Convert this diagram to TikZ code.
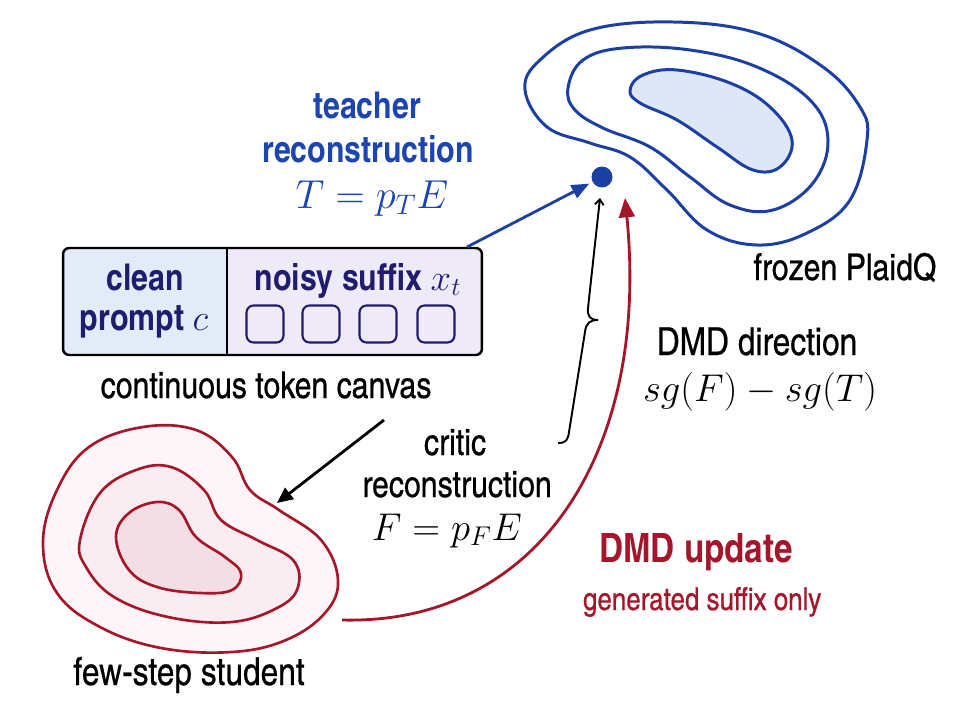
\RequirePackage{fix-cm}
\documentclass[tikz,border=0pt]{standalone}
\usepackage{fontspec}
\setmainfont{texgyreheroscn}[Extension=.otf,UprightFont=*-regular,UprightFeatures={FakeBold=0.5},BoldFont=*-bold,ItalicFont=*-italic,BoldItalicFont=*-bolditalic]
\usetikzlibrary{arrows.meta}
\definecolor{cblue}{HTML}{1B3FA3}
\definecolor{tblue}{HTML}{1D45B2}
\definecolor{navy}{HTML}{201C70}
\definecolor{cred}{HTML}{A5162B}
\definecolor{lblue}{HTML}{E3EBF8}
\definecolor{llav}{HTML}{EFEAF8}
\definecolor{bfill}{HTML}{DDE7F5}
\definecolor{rfillA}{HTML}{FDF5F7}
\definecolor{rfillB}{HTML}{FAEDF1}
\definecolor{rfillC}{HTML}{F3DEE6}
\tikzset{
  lbl/.style={font=\fontsize{21}{25}\selectfont, anchor=base, inner sep=0pt},
  lblbig/.style={font=\fontsize{22}{26}\selectfont, anchor=base, inner sep=0pt},
  blbl/.style={font=\fontsize{21}{25}\selectfont\bfseries, anchor=base, inner sep=0pt},
  mathlbl/.style={font=\fontsize{22}{26}\selectfont, anchor=base, inner sep=0pt},
  bcont/.style={draw=cblue, line width=1.7pt},
  rcont/.style={draw=cred, line width=1.5pt},
  tok/.style={draw=navy, line width=1.2pt, rounded corners=4pt, minimum size=0.74cm, inner sep=0pt},
  barrow/.style={draw=cblue, line width=1.6pt, -{Triangle[length=10pt,width=8pt]}, shorten >=2pt},
  karrow/.style={draw=black, line width=1.6pt, -{Triangle[length=9pt,width=8pt]}},
  rarrow/.style={draw=cred, line width=1.6pt, -{Triangle[length=11pt,width=9pt]}},
  bracearrow/.style={draw=black, line width=1.1pt, -{Straight Barb[length=3pt,width=5pt]}}
}
\begin{document}
\begin{tikzpicture}[x=0.02cm,y=-0.02cm]
\path[use as bounding box, fill=white] (0,0) rectangle (960,720);

% ---- teacher (blue) contours
\draw[bcont] plot[smooth cycle, tension=0.65] coordinates {(525,90) (540,60) (590,30) (673,22) (757,33) (823,67) (860,107) (867,140) (850,200) (807,233) (757,245) (707,230) (667,190) (630,157) (590,143) (547,127)};
\draw[bcont] plot[smooth cycle, tension=0.65] coordinates {(568,88) (583,60) (623,48) (690,50) (757,67) (810,100) (828,140) (813,183) (773,210) (730,205) (690,177) (650,147) (603,128) (575,110)};
\draw[bcont, fill=bfill] plot[smooth cycle, tension=0.65] coordinates {(630,90) (643,75) (677,70) (730,83) (770,107) (792,140) (780,167) (753,170) (717,147) (677,120) (640,103)};

% ---- student (red) contours
\draw[rcont, fill=rfillA] plot[smooth cycle, tension=0.65] coordinates {(43,543) (57,490) (89,447) (143,427) (196,430) (232,457) (250,490) (279,510) (321,540) (338,580) (325,613) (286,640) (232,652) (161,648) (100,627) (57,593)};
\draw[rcont, fill=rfillB] plot[smooth cycle, tension=0.65] coordinates {(80,540) (100,493) (136,470) (171,467) (204,490) (221,520) (257,540) (293,560) (298,587) (279,607) (232,622) (168,617) (114,597) (86,567)};
\draw[rcont, fill=rfillC] plot[smooth cycle, tension=0.65] coordinates {(116,537) (129,513) (157,502) (179,510) (196,537) (225,557) (241,573) (232,590) (200,593) (157,587) (129,570)};

% ---- token canvas
\begin{scope}
  \clip[rounded corners=3.5pt] (63,248) rectangle (482,355);
  \fill[lblue] (63,248) rectangle (227,355);
  \fill[llav] (227,248) rectangle (482,355);
\end{scope}
\node[draw=black, line width=1.4pt, rounded corners=3.5pt, minimum width=8.38cm, minimum height=2.14cm, inner sep=0pt] (canvas) at (272.5,301.5) {};
\draw[line width=1.2pt] (227,248) -- (227,355);
\node[blbl, text=navy] (clean) at (145,290) {clean};
\node[blbl, text=navy] (prompt) at (144,330) {prompt $c$};
\node[blbl, text=navy] (noisy) at (358,290) {noisy suffix $x_t$};
\node[tok] (s1) at (265,324) {};
\node[tok] (s2) at (321,324) {};
\node[tok] (s3) at (378,324) {};
\node[tok] (s4) at (436,324) {};
\node[lbl] (canvaslbl) at (266,398) {continuous token canvas};

% ---- teacher labels
\node[blbl, text=tblue] (t1) at (367,118) {teacher};
\node[blbl, text=tblue] (t2) at (368,162) {reconstruction};
\node[mathlbl, text=tblue, font=\fontsize{23}{27}\selectfont] (t3) at (372,208) {$T = p_T E$};

\node[lbl] (frozen) at (845,280) {frozen PlaidQ};

% ---- dot
\node[circle, fill=cblue, minimum size=0.42cm, inner sep=0pt] (dot) at (602,177) {};

% ---- critic labels
\node[lbl] (c1) at (455,455) {critic};
\node[lbl] (c2) at (457,497) {reconstruction};
\node[mathlbl] (c3) at (447,540) {$F = p_F E$};

% ---- DMD direction
\node[lblbig] (d1) at (757,355) {DMD direction};
\node[mathlbl] (d2) at (760,401) {$sg(F) - sg(T)$};

% ---- DMD update
\node[blbl, text=cred, font=\fontsize{23}{27}\selectfont\bfseries] (u1) at (696,562) {DMD update};
\node[lbl, text=cred, font=\fontsize{18}{22}\selectfont] (u2) at (702,610) {generated suffix only};

\node[lblbig] (student) at (189,685) {few-step student};

% ---- connectors
\coordinate (tstart) at (467,247);
\draw[barrow] (tstart) -- (dot);

\coordinate (cstart) at (384,420);
\coordinate (cend) at (277,503);
\draw[karrow] (cstart) -- (cend);

\coordinate (rstart) at (342,620);
\coordinate (rend) at (625,198);
\draw[rarrow] (rstart) .. controls (540,625) and (650,450) .. (rend);

\coordinate (bb) at (558,443);
\coordinate (bt) at (600,198);
\draw[bracearrow] (bb) .. controls (566,443) and (568,440) .. (569,432) -- (585,332) .. controls (586,323) and (590,320) .. (598,320) .. controls (590,320) and (587,316) .. (588,308) -- (bt);
\end{tikzpicture}
\end{document}
